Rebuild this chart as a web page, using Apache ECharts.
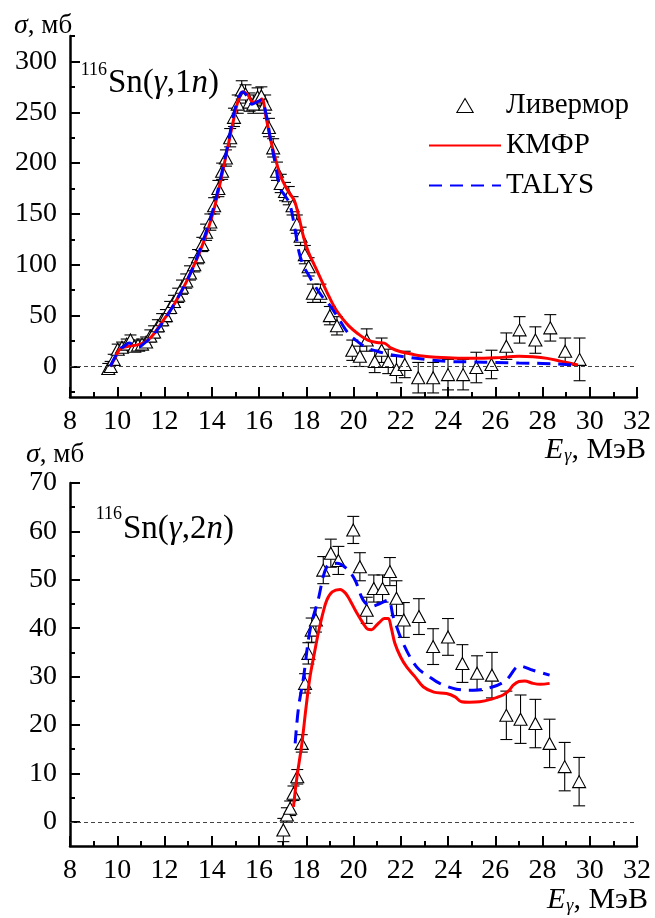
<!DOCTYPE html>
<html>
<head>
<meta charset="utf-8">
<script src="https://cdn.jsdelivr.net/npm/echarts@6/dist/echarts.min.js"></script>
<style>
html,body{margin:0;padding:0;background:#fff;}
#c{width:655px;height:918px;}
#warm{position:absolute;left:-9999px;top:0;font-family:'Liberation Serif';font-size:28px;}
#warm i{font-style:italic;}
</style>
</head>
<body>
<span id="warm">Ливермор 0123456789 <i>σγEn</i> КМФР TALYS МэВ мб</span>
<div id="c"></div>
<script>
// ---------- Data: top panel, 116Sn(γ,1n) ----------
const topExpE   = [9.62, 9.72, 9.85, 10.02, 10.2, 10.4, 10.56, 10.72, 10.88, 11.05, 11.22, 11.4, 11.56, 11.72, 11.9, 12.06, 12.24, 12.4, 12.58, 12.74, 12.92, 13.08, 13.26, 13.42, 13.6, 13.76, 13.94, 14.1, 14.28, 14.44, 14.6, 14.78, 14.94, 15.1, 15.27, 15.43, 15.6, 15.76, 15.94, 16.1, 16.26, 16.42, 16.6, 16.76, 16.92, 17.1, 17.26, 17.42, 17.6, 17.76, 17.94, 18.1, 18.28, 18.6, 19.0, 19.3, 19.95, 20.27, 20.56, 20.9, 21.19, 21.47, 21.82, 22.17, 22.74, 23.37, 24.0, 24.64, 25.2, 25.84, 26.47, 27.03, 27.7, 28.33, 28.96, 29.57];
const topExpSig = [-2, 0, 7, 17, 19, 22, 26, 20, 21, 22, 24, 30, 34, 40, 46, 50, 58, 64, 70, 78, 84, 92, 100, 108, 120, 132, 142, 158, 175, 192, 205, 225, 245, 258, 272, 268, 260, 258, 265, 266, 258, 235, 215, 192, 180, 172, 168, 158, 140, 128, 110, 98, 72, 72, 50, 40, 16, 10, 26, 5, 16, 5, -3, 2, -11, -11, -8, -8, -1, 2, 20, 36, 26, 38, 15, 7];
const topExpErr = [5, 5, 5, 5, 5, 5, 5, 5, 5, 5, 5, 6, 6, 6, 6, 6, 6, 6, 7, 7, 7, 7, 7, 7, 7, 8, 8, 8, 8, 8, 8, 9, 9, 9, 9, 9, 9, 9, 9, 9, 9, 9, 9, 9, 9, 9, 9, 9, 9, 9, 9, 9, 9, 9, 9, 9, 10, 10, 11, 11, 12, 12, 13, 13, 15, 15, 15, 15, 15, 14, 13, 13, 13, 13, 13, 21];

const topKmfrE   = [9.7, 9.9, 10.1, 10.3, 10.5, 10.8, 11.1, 11.4, 11.7, 12.0, 12.3, 12.6, 12.9, 13.2, 13.5, 13.8, 14.1, 14.4, 14.7, 14.9, 15.1, 15.3, 15.5, 15.75, 15.95, 16.12, 16.3, 16.5, 16.7, 16.9, 17.1, 17.3, 17.5, 17.7, 17.9, 18.1, 18.3, 18.6, 18.9, 19.2, 19.5, 19.8, 20.2, 20.6, 21.0, 21.3, 21.6, 22.0, 22.5, 23.0, 23.5, 24.0, 25.0, 26.0, 27.0, 27.6, 28.2, 28.8, 29.5];
const topKmfrSig = [0, 8, 17, 19, 20, 21, 23, 28, 37, 47, 57, 69, 82, 97, 113, 132, 155, 185, 218, 240, 260, 270, 268, 260, 260, 263, 245, 222, 204, 188, 178, 170, 163, 146, 126, 112, 102, 87, 72, 58, 48, 40, 32, 26, 23.5, 23, 18, 14.5, 12, 10, 9, 8.5, 8, 8.5, 10, 9.5, 8, 5, 1.5];

const topTalysE   = [9.7, 9.9, 10.1, 10.3, 10.5, 10.7, 10.9, 11.1, 11.4, 11.7, 12.0, 12.3, 12.6, 12.9, 13.2, 13.5, 13.8, 14.1, 14.4, 14.7, 14.9, 15.1, 15.3, 15.5, 15.7, 15.9, 16.1, 16.3, 16.5, 16.7, 16.9, 17.1, 17.3, 17.5, 17.7, 17.9, 18.1, 18.4, 18.7, 19.0, 19.4, 19.8, 20.2, 20.6, 21.0, 21.5, 22.0, 23.0, 24.0, 25.0, 26.0, 27.0, 28.0, 29.0, 29.5];
const topTalysSig = [0, 9, 17, 20, 23, 21, 19, 22, 28, 36, 46, 57, 69, 82, 97, 115, 135, 158, 188, 220, 245, 262, 270, 266, 258, 260, 262, 248, 222, 198, 175, 168, 160, 138, 112, 98, 90, 78, 68, 60, 46, 32, 24, 18, 15, 12, 10, 7, 5, 4.5, 4, 3.5, 3, 2, 1.5];

// ---------- Data: bottom panel, 116Sn(γ,2n) ----------
const botExpE   = [17.03, 17.18, 17.32, 17.46, 17.62, 17.81, 17.95, 18.09, 18.23, 18.41, 18.72, 19.04, 19.36, 19.99, 20.27, 20.56, 20.86, 21.23, 21.54, 21.82, 22.13, 22.77, 23.37, 24.0, 24.61, 25.23, 25.86, 26.47, 27.07, 27.7, 28.3, 28.94, 29.55];
const botExpSig = [-1.7, 1.4, 2.8, 5.9, 9.3, 16.2, 28.6, 34.8, 39.6, 41.7, 52, 55.5, 54, 60.3, 52.7, 43.7, 48.2, 48.2, 51.7, 46.2, 41.7, 42.4, 36.2, 38.2, 32.7, 30.7, 30.3, 22.0, 21.2, 20.3, 16.2, 11.4, 8.3];
const botExpErr = [2.4, 1.5, 1.5, 1.5, 1.5, 1.8, 2.0, 2.2, 2.5, 2.5, 2.8, 2.9, 2.9, 2.8, 2.9, 2.7, 2.8, 2.8, 2.9, 3.6, 3.6, 3.7, 3.7, 3.8, 3.9, 3.6, 4.7, 5, 5, 5, 5, 5, 5];

const botKmfrE   = [17.46, 17.6, 17.81, 18.0, 18.16, 18.35, 18.51, 18.7, 18.87, 19.1, 19.43, 19.65, 19.85, 20.1, 20.41, 20.6, 20.77, 20.95, 21.1, 21.3, 21.47, 21.6, 21.75, 22.0, 22.25, 22.6, 22.95, 23.4, 23.94, 24.3, 24.57, 24.9, 25.34, 25.8, 26.33, 26.6, 26.75, 27.0, 27.24, 27.6, 27.9, 28.3];
const botKmfrSig = [3.1, 9, 16, 24, 30, 35, 39, 43, 45.8, 47.5, 48, 47.3, 45.8, 43.5, 41, 39.8, 39.7, 40.5, 41.2, 42, 42, 40, 36.9, 34, 32, 30, 27.9, 26.8, 26.5, 25.8, 24.8, 24.7, 24.8, 25.3, 26.2, 27.2, 28.2, 29, 29.1, 28.6, 28.4, 28.6];

const botTalysE   = [17.53, 17.67, 17.88, 18.16, 18.51, 18.87, 19.29, 19.71, 20.06, 20.41, 20.77, 21.12, 21.47, 21.68, 22.1, 22.67, 23.2, 23.65, 24.36, 25.06, 25.91, 26.47, 27.03, 27.6, 28.3];
const botTalysSig = [16.2, 23.5, 29.7, 39.6, 46, 52.7, 53.4, 52.3, 50, 45.8, 44.5, 45.1, 45.8, 42.4, 36.9, 32, 30, 28.6, 27.4, 27.2, 27.9, 29.3, 32.2, 31.3, 30.3];

// ---------- Axis ticks / labels ----------
const xMin = 8, xMax = 32, xStep = 2;
const topYMin = -30, topYMax = 325;
const topYLabels = [0, 50, 100, 150, 200, 250, 300];
const topYMinor = [-25, 25, 75, 125, 175, 225, 275, 325];
const botYMin = -5, botYMax = 70;
const botYLabels = [0, 10, 20, 30, 40, 50, 60, 70];
const botYMinor = [5, 15, 25, 35, 45, 55, 65];

const legendNames = ['Ливермор', 'КМФР', 'TALYS'];

// ---------- Build ----------
const SERIF = 'Liberation Serif';
const zip2 = (a, b) => a.map((v, i) => [v, b[i]]);
const zip3 = (a, b, c) => a.map((v, i) => [v, b[i], c[i]]);

// warm the serif font on a scratch canvas before the chart draws
(function () {
  const cv = document.createElement('canvas');
  const cx = cv.getContext('2d');
  ['28px', 'italic 28px'].forEach(f => {
    cx.font = f + " 'Liberation Serif'";
    cx.fillText('Ливермор 0123456789 σγEn КМФР TALYS МэВ мб Sn', 0, 20);
  });
})();

function renderErr(params, api) {
  const x = api.value(0), y = api.value(1), e = api.value(2);
  const p1 = api.coord([x, y + e]);
  const p2 = api.coord([x, y - e]);
  const w = 6;
  const st = { stroke: '#000', lineWidth: 1.1 };
  return {
    type: 'group',
    children: [
      { type: 'line', shape: { x1: p1[0], y1: p1[1], x2: p2[0], y2: p2[1] }, style: st },
      { type: 'line', shape: { x1: p1[0] - w, y1: p1[1], x2: p1[0] + w, y2: p1[1] }, style: st },
      { type: 'line', shape: { x1: p2[0] - w, y1: p2[1], x2: p2[0] + w, y2: p2[1] }, style: st }
    ]
  };
}

function xAxisCfg(gridIndex) {
  return {
    type: 'value', gridIndex, min: xMin, max: xMax, interval: xStep, position: 'bottom',
    axisLine: { onZero: false, lineStyle: { color: '#000', width: 2.5 } },
    axisTick: { inside: true, length: 10, lineStyle: { color: '#000', width: 2 } },
    minorTick: { show: true, splitNumber: 2, length: 5, lineStyle: { color: '#000', width: 2 } },
    axisLabel: { color: '#000', fontFamily: SERIF, fontSize: 28, margin: 11 },
    splitLine: { show: false }, minorSplitLine: { show: false }
  };
}
function yMajorCfg(gridIndex, min, max, labels) {
  return {
    type: 'value', gridIndex, min, max, position: 'left',
    axisLine: { show: true, onZero: false, lineStyle: { color: '#000', width: 2.5 } },
    axisTick: { show: true, inside: true, length: 10, customValues: labels, lineStyle: { color: '#000', width: 2 } },
    axisLabel: { show: true, customValues: labels, color: '#000', fontFamily: SERIF, fontSize: 28, margin: 13 },
    splitLine: { show: false }
  };
}
function yMinorCfg(gridIndex, min, max, ticks) {
  return {
    type: 'value', gridIndex, min, max, position: 'left', offset: 0,
    axisLine: { show: false, onZero: false },
    axisTick: { show: true, inside: true, length: 5, customValues: ticks, lineStyle: { color: '#000', width: 2 } },
    axisLabel: { show: false },
    splitLine: { show: false }
  };
}

const zeroLine = {
  silent: true, symbol: 'none', label: { show: false },
  lineStyle: { color: '#444', width: 1, type: [4, 3] },
  data: [{ yAxis: 0 }]
};

function panelSeries(xi, yi, expE, expS, expErr, kE, kS, tE, tS) {
  return [
    { type: 'custom', xAxisIndex: xi, yAxisIndex: yi, renderItem: renderErr,
      data: zip3(expE, expS, expErr), encode: { x: 0, y: 1 }, z: 2, silent: true },
    { type: 'scatter', name: legendNames[0], xAxisIndex: xi, yAxisIndex: yi,
      data: zip2(expE, expS), symbol: 'triangle', symbolSize: [13, 12],
      itemStyle: { color: '#fff', borderColor: '#000', borderWidth: 1.1, opacity: 1 },
      z: 3, markLine: zeroLine },
    { type: 'line', name: legendNames[1], xAxisIndex: xi, yAxisIndex: yi,
      data: zip2(kE, kS), symbol: 'none', smooth: 0.35,
      lineStyle: { color: '#ff0000', width: 3 }, itemStyle: { color: '#ff0000' }, z: 4 },
    { type: 'line', name: legendNames[2], xAxisIndex: xi, yAxisIndex: yi,
      data: zip2(tE, tS), symbol: 'none', smooth: 0.35,
      lineStyle: { color: '#0000ff', width: 3, type: [13, 8] }, itemStyle: { color: '#0000ff' }, z: 5 }
  ];
}

const txt = (x, y, text, size, extra) => ({
  type: 'text', x, y, z: 100,
  style: Object.assign({ text, fill: '#000', fontFamily: SERIF, fontSize: size, align: 'left', verticalAlign: 'middle' }, extra || {})
});

function richText(x, y, text, rich, extra) {
  return {
    type: 'text', x, y, z: 100,
    style: Object.assign({ text, rich, fill: '#000', fontFamily: SERIF, fontSize: 27, align: 'left', verticalAlign: 'middle' }, extra || {})
  };
}

const sigmaRich = {
  i: { fontFamily: SERIF, fontSize: 28, fontStyle: 'italic', fill: '#000' },
  n: { fontFamily: SERIF, fontSize: 27, fill: '#000' }
};
const eRich = {
  e: { fontFamily: SERIF, fontSize: 30, fontStyle: 'italic', fill: '#000', verticalAlign: 'top' },
  g: { fontFamily: SERIF, fontSize: 18, fontStyle: 'italic', fill: '#000', verticalAlign: 'top', padding: [12, 0, 0, 1] },
  n: { fontFamily: SERIF, fontSize: 30, fill: '#000', verticalAlign: 'top' }
};
const reacRich = {
  m: { fontFamily: SERIF, fontSize: 33, fill: '#000' },
  i: { fontFamily: SERIF, fontSize: 33, fontStyle: 'italic', fill: '#000' }
};

const option = {
  animation: false,
  backgroundColor: '#fff',
  textStyle: { fontFamily: SERIF, color: '#000' },
  grid: [
    { left: 70, right: 18, top: 36, height: 361 },
    { left: 70, right: 18, top: 483, height: 363 }
  ],
  xAxis: [xAxisCfg(0), xAxisCfg(1)],
  yAxis: [
    yMajorCfg(0, topYMin, topYMax, topYLabels),
    yMinorCfg(0, topYMin, topYMax, topYMinor),
    yMajorCfg(1, botYMin, botYMax, botYLabels),
    yMinorCfg(1, botYMin, botYMax, botYMinor)
  ],
  legend: {
    data: [
      { name: legendNames[0], icon: 'path://M7,0 L14,12 L0,12 Z',
        itemStyle: { color: '#fff', borderColor: '#000', borderWidth: 1.1 } },
      { name: legendNames[1], itemStyle: { opacity: 0 } },
      { name: legendNames[2], itemStyle: { opacity: 0 } }
    ],
    symbolKeepAspect: true,
    orient: 'vertical', left: 423, top: 86,
    itemWidth: 72, itemHeight: 14, itemGap: 11,
    textStyle: { color: '#000', fontFamily: SERIF, fontSize: 29 },
    selectedMode: false
  },
  series: [].concat(
    panelSeries(0, 0, topExpE, topExpSig, topExpErr, topKmfrE, topKmfrSig, topTalysE, topTalysSig),
    panelSeries(1, 2, botExpE, botExpSig, botExpErr, botKmfrE, botKmfrSig, botTalysE, botTalysSig)
  ),
  graphic: [
    richText(14, 26, '{i|σ}{n|, мб}', sigmaRich),
    richText(26, 455, '{i|σ}{n|, мб}', sigmaRich),
    richText(545, 435, '{e|E}{g|γ}{n|, МэВ}', eRich, { verticalAlign: 'top' }),
    richText(547, 885, '{e|E}{g|γ}{n|, МэВ}', eRich, { verticalAlign: 'top' }),
    txt(107, 70, '116', 18, { align: 'right' }),
    richText(108, 83, '{m|Sn(}{i|γ}{m|,1}{i|n}{m|)}', reacRich),
    txt(122, 514, '116', 18, { align: 'right' }),
    richText(123, 529, '{m|Sn(}{i|γ}{m|,2}{i|n}{m|)}', reacRich)
  ]
};

const chart = echarts.init(document.getElementById('c'), null, { renderer: 'canvas' });
chart.setOption(option);
if (document.fonts && document.fonts.load) {
  Promise.all([
    document.fonts.load("28px 'Liberation Serif'"),
    document.fonts.load("italic 28px 'Liberation Serif'")
  ]).then(() => { chart.clear(); chart.setOption(option); }).catch(() => {});
}
</script>
</body>
</html>
